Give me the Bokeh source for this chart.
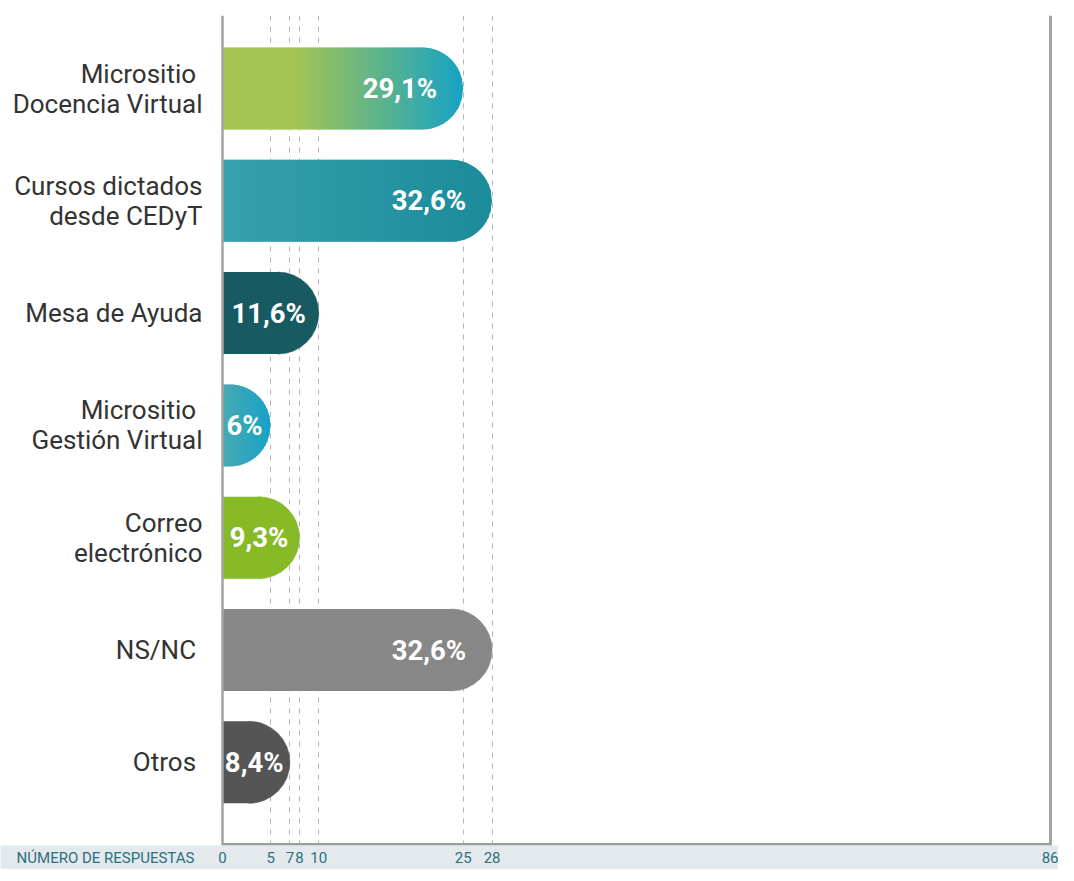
import math
from bokeh.plotting import figure
from bokeh.models import Range1d, FixedTicker, Span
from bokeh.core.properties import value
from bokeh.embed import file_html
from bokeh.resources import INLINE

# ---------------- data ----------------
categorias = [
    "Micrositio\u00a0\nDocencia Virtual",
    "Cursos dictados\ndesde CEDyT",
    "Mesa de Ayuda",
    "Micrositio\u00a0\nGestión Virtual",
    "Correo\nelectrónico",
    "NS/NC\u00a0",
    "Otros\u00a0",
]
respuestas = [25, 28, 10, 5, 8, 28, 7]
porcentajes = ["29,1%", "32,6%", "11,6%", "6%", "9,3%", "32,6%", "8,4%"]
color_inicio = ["#a4c553", "#36a1ae", "#175a62", "#4aa9b4", "#86bb27", "#878787", "#555555"]
color_fin = ["#17a2c5", "#1c8b9a", "#175a62", "#15a3c6", "#86bb27", "#878787", "#555555"]
marcas_x = [0, 5, 7, 8, 10, 25, 28, 86]
total = 86
titulo_eje = "NÚMERO DE RESPUESTAS"

# ---------------- layout constants (pixels) ----------------
W, FRAME_H = 1058, 830
TOP, BOTTOM = 15, 20
X0_PX, XEND_PX = 222, 1050          # where 0 and the total land
FIRST_BAR_PX, BAR_STEP_PX = 88, 112.3
R_PX = 41
TITLE_CENTER_PX = 105
FONT = "Roboto"
TEAL = "#2c6f7d"
AXIS_GRAY = "#a3a3a3"

px_x = (XEND_PX - X0_PX) / total
x_min = -X0_PX / px_x
x_max = x_min + W / px_x
n = len(categorias)
px_y = BAR_STEP_PX
y_max = (n - 1) + (FIRST_BAR_PX - TOP) / px_y
y_min = y_max - FRAME_H / px_y
r_data = R_PX / px_x
half_h = R_PX / px_y
title_tick = round((TITLE_CENTER_PX - X0_PX) / px_x, 3)

p = figure(
    frame_width=W, frame_height=FRAME_H,
    x_range=Range1d(x_min, x_max), y_range=Range1d(y_min, y_max),
    output_backend="svg", toolbar_location=None, y_axis_location=None,
    min_border_left=0, min_border_right=0, min_border_top=TOP, min_border_bottom=BOTTOM,
)
p.outline_line_color = None
p.background_fill_color = "white"
p.border_fill_color = "white"

ys = [n - 1 - i for i in range(n)]


def hex2rgb(h):
    h = h.lstrip("#")
    return tuple(int(h[k:k + 2], 16) for k in (0, 2, 4))


def mix(c1, c2, t):
    a, b = hex2rgb(c1), hex2rgb(c2)
    return "#%02x%02x%02x" % tuple(int(round(a[k] + (b[k] - a[k]) * t)) for k in range(3))


# grid (dashed reference lines)
p.ygrid.grid_line_color = None
p.xgrid.ticker = FixedTicker(ticks=[t for t in marcas_x if 0 < t < total])
p.xgrid.grid_line_color = "#b5b5b5"
p.xgrid.grid_line_dash = "5 6"
p.xgrid.grid_line_width = 1

# vertical axis line at 0 and at total
p.add_layout(Span(location=0, dimension="height", line_color=AXIS_GRAY, line_width=2.5))
p.add_layout(Span(location=total, dimension="height", line_color=AXIS_GRAY, line_width=3))
# horizontal baseline (half of it is clipped by the frame edge)
p.segment(x0=[0], y0=[y_min], x1=[total], y1=[y_min], line_color="#9c9c9c", line_width=5)


def profile(x, v):
    """half height (data units) of a bar of length v with a rounded end"""
    start = max(v - r_data, 0)
    if x <= start:
        return half_h
    d = min((x - start) / r_data, 1.0)
    return half_h * math.sqrt(max(0.0, 1 - d * d))


overlap = 1.0 / px_x

# bars with rounded right end
for i, (v, y) in enumerate(zip(respuestas, ys)):
    body_end = max(v - r_data, 0)
    c0, c1 = color_inicio[i], color_fin[i]
    if c0 == c1:
        p.wedge(x=[body_end], y=[y], radius=R_PX, radius_units="screen",
                start_angle=-math.pi / 2, end_angle=math.pi / 2,
                fill_color=c0, line_color=c0, line_width=0.6)
        p.hbar(y=[y], left=[0], right=[body_end + overlap], height=2 * half_h,
               fill_color=c0, line_color=None)
        continue
    t0 = 0.3 if i == 0 else 0.0
    N = max(int(v * px_x / 2), 12)
    step = v / N
    xs_list, ys_list, cols = [], [], []
    for k in range(N):
        a = k * step
        b = min((k + 1) * step + overlap, v)
        ha, hb = profile(a, v), profile(b, v)
        xs_list.append([a, b, b, a])
        ys_list.append([y + ha, y + hb, y - hb, y - ha])
        t = (a + step / 2) / v
        tt = 0.0 if t < t0 else (t - t0) / (1 - t0)
        cols.append(mix(c0, c1, min(tt, 1.0)))
    p.patches(xs=xs_list, ys=ys_list, fill_color=cols, line_color=None)

# value labels
big = [i for i, v in enumerate(respuestas) if v > 15]
small = [i for i, v in enumerate(respuestas) if v <= 15]
common = dict(text_color="white", text_font=value(FONT), text_font_style="bold",
              text_font_size="27.5px", text_baseline="middle")
p.text(x=[respuestas[i] for i in big], y=[ys[i] for i in big], x_offset=-26,
       text=[porcentajes[i] for i in big], text_align="right", **common)
p.text(x=[respuestas[i] / 2 for i in small], y=[ys[i] for i in small], x_offset=-2,
       text=[porcentajes[i] for i in small], text_align="center", **common)

# category labels
p.text(x=[0] * n, y=ys, text=categorias, x_offset=-20, text_align="right",
       text_baseline="middle", text_font=value(FONT), text_font_size="26px",
       text_color="#333333", text_line_height=1.0)

# x axis
xax = p.xaxis[0]
xax.ticker = FixedTicker(ticks=[title_tick] + marcas_x)
xax.major_label_overrides = {title_tick: titulo_eje}
xax.axis_line_color = None
xax.major_tick_in = 0
xax.major_tick_out = 0
xax.minor_tick_line_color = None
xax.major_tick_line_color = None
xax.major_label_text_font = FONT
xax.major_label_text_font_size = "15px"
xax.major_label_text_color = TEAL
xax.major_label_standoff = 3
if hasattr(xax, "background_fill_color"):
    xax.background_fill_color = "#e3e9ec"

open("out.html", "w").write(file_html(p, INLINE))
